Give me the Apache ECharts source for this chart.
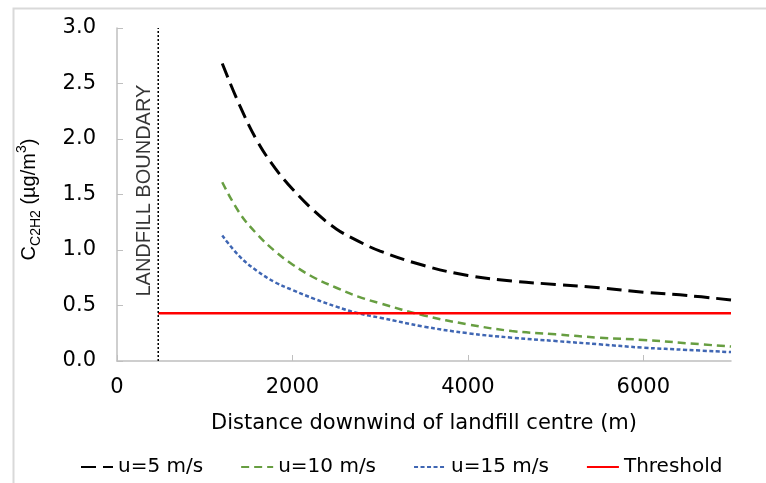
<!DOCTYPE html>
<html>
<head>
<meta charset="utf-8">
<script src="https://cdn.jsdelivr.net/npm/echarts@6/dist/echarts.min.js"></script>
<style>
  html, body { margin: 0; padding: 0; background: #fff; }
  #chart { width: 766px; height: 483px; }
</style>
</head>
<body>
<div id="chart"></div>
<script>
// distance downwind (m)
var distance = [1200, 1400, 1600, 1800, 2000, 2250, 2500, 2750, 3000, 3500, 4000, 4500, 5000, 5500, 6000, 6500, 7000]
// concentration (ug/m3) for each wind speed
var u5 = [2.68, 2.30, 1.98, 1.74, 1.55, 1.35, 1.19, 1.08, 0.99, 0.86, 0.77, 0.72, 0.69, 0.66, 0.62, 0.59, 0.55]
var u10 = [1.61, 1.33, 1.14, 0.99, 0.87, 0.75, 0.66, 0.58, 0.52, 0.41, 0.33, 0.27, 0.24, 0.21, 0.19, 0.16, 0.13]
var u15 = [1.13, 0.94, 0.81, 0.71, 0.64, 0.56, 0.49, 0.43, 0.39, 0.31, 0.25, 0.21, 0.18, 0.15, 0.12, 0.10, 0.08]
var threshold = 0.43
var boundaryX = 470
var xTicks = [0, 2000, 4000, 6000]
var yTicks = [0, 0.5, 1.0, 1.5, 2.0, 2.5, 3.0]

var font = 'DejaVu Sans, sans-serif'
var narrowFont = 'Liberation Sans, Arial, sans-serif'

function pairs(xs, ys) {
  return xs.map(function(x, i) { return [x, ys[i]] })
}

var chart = echarts.init(document.getElementById('chart'))
chart.setOption({
  animation: false,
  textStyle: { fontFamily: font },
  graphic: [{
    type: 'rect',
    left: 11,
    top: 6,
    shape: { width: 800, height: 520 },
    style: { fill: 'none', stroke: '#d9d9d9', lineWidth: 2 },
    silent: true
  }],
  grid: {
    left: 117,
    right: 35,
    top: 28,
    bottom: 122
  },
  legend: {
    data: ['u=5 m/s', 'u=10 m/s', 'u=15 m/s', 'Threshold'],
    bottom: 1,
    left: 75,
    itemWidth: 32,
    itemHeight: 14,
    itemGap: 37,
    itemStyle: { opacity: 0 },
    textStyle: { fontSize: 20, color: '#000', fontFamily: font }
  },
  xAxis: {
    type: 'value',
    min: 0,
    max: 7000,
    interval: 2000,
    name: 'Distance downwind of landfill centre (m)',
    nameLocation: 'middle',
    nameGap: 52,
    nameTextStyle: { fontSize: 21, color: '#000', fontFamily: font },
    axisLine: { lineStyle: { color: '#bfbfbf', width: 1.5 } },
    axisTick: { inside: true, length: 6, lineStyle: { color: '#bfbfbf' } },
    axisLabel: {
      fontSize: 21,
      color: '#000',
      fontFamily: font,
      margin: 16,
      showMaxLabel: false,
      formatter: function(v) { return xTicks.indexOf(v) >= 0 ? String(v) : '' }
    },
    splitLine: { show: false }
  },
  yAxis: {
    type: 'value',
    min: 0,
    max: 3,
    interval: 0.5,
    name: '{a|C}{sub|C2H2}{a| (µg/m}{sup|3}{a|)}',
    nameLocation: 'middle',
    nameGap: 74,
    nameTextStyle: {
      color: '#000',
      padding: [0, 10, 0, 0],
      rich: {
        a: { fontSize: 20, color: '#000', fontFamily: narrowFont, lineHeight: 28, verticalAlign: 'middle' },
        sub: { fontSize: 14, color: '#000', fontFamily: narrowFont, lineHeight: 28, verticalAlign: 'bottom' },
        sup: { fontSize: 14, color: '#000', fontFamily: narrowFont, lineHeight: 28, verticalAlign: 'top' }
      }
    },
    axisLine: { show: true, lineStyle: { color: '#bfbfbf', width: 1.5 } },
    axisTick: { show: true, inside: true, length: 6, lineStyle: { color: '#bfbfbf' } },
    axisLabel: {
      fontSize: 21,
      color: '#000',
      fontFamily: font,
      margin: 21,
      formatter: function(v) { return yTicks.indexOf(v) >= 0 ? v.toFixed(1) : '' }
    },
    splitLine: { show: false }
  },
  series: [
    {
      name: 'u=5 m/s',
      type: 'line',
      smooth: 0.4,
      symbol: 'none',
      data: pairs(distance, u5),
      lineStyle: { color: '#000', width: 3, type: [15, 7] },
      itemStyle: { color: '#000' }
    },
    {
      name: 'u=10 m/s',
      type: 'line',
      smooth: 0.4,
      symbol: 'none',
      data: pairs(distance, u10),
      lineStyle: { color: '#679e41', width: 2.5, type: [8, 5] },
      itemStyle: { color: '#679e41' }
    },
    {
      name: 'u=15 m/s',
      type: 'line',
      smooth: 0.4,
      symbol: 'none',
      data: pairs(distance, u15),
      lineStyle: { color: '#3f66b3', width: 2.5, type: [4, 2.5] },
      itemStyle: { color: '#3f66b3' }
    },
    {
      name: 'Threshold',
      type: 'line',
      symbol: 'none',
      data: [[boundaryX, threshold], [7000, threshold]],
      lineStyle: { color: '#ff0000', width: 2.5 },
      itemStyle: { color: '#ff0000' }
    },
    {
      name: 'boundary',
      type: 'line',
      symbol: 'none',
      data: [[boundaryX, 0], [boundaryX, 3]],
      lineStyle: { color: '#000', width: 1.5, type: [2, 2] },
      itemStyle: { color: '#000' }
    },
    {
      name: 'boundaryLabel',
      type: 'scatter',
      symbolSize: 0,
      data: [[boundaryX, 1.535]],
      label: {
        show: true,
        position: 'inside',
        rotate: 90,
        align: 'center',
        verticalAlign: 'bottom',
        offset: [0, -4],
        fontSize: 20,
        color: '#000',
        fontFamily: narrowFont,
        formatter: 'LANDFILL BOUNDARY'
      }
    }
  ]
})
</script>
</body>
</html>
